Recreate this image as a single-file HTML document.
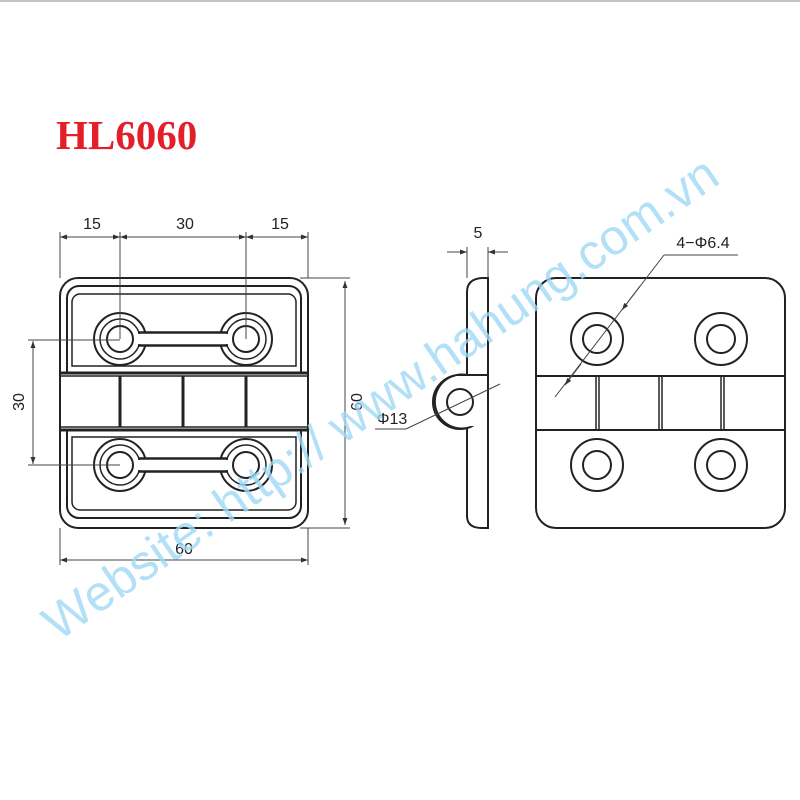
<!DOCTYPE html>
<html><head><meta charset="utf-8"><style>
html,body{margin:0;padding:0;background:#fff}
svg{display:block}
</style></head><body>
<svg width="800" height="800" viewBox="0 0 800 800" xmlns="http://www.w3.org/2000/svg">
<defs>
<marker id="a" viewBox="0 0 10 10" refX="10" refY="5" markerWidth="11" markerHeight="7" orient="auto-start-reverse" markerUnits="userSpaceOnUse"><path d="M0,1.5 L10,5 L0,8.5 z" fill="#333"/></marker>
</defs>
<line x1="0" y1="1" x2="800" y2="1" stroke="#888" stroke-width="1"/>
<text x="56" y="149" font-family="Liberation Serif" font-weight="bold" font-size="41" fill="#e3202a">HL6060</text>

<g fill="none" stroke="#222" stroke-width="2">
<rect x="60" y="278" width="248" height="250" rx="18"/>
<path d="M67,373 V298 a12,12 0 0 1 12,-12 H289 a12,12 0 0 1 12,12 V373"/>
<path d="M72,366 V302 a8,8 0 0 1 8,-8 H288 a8,8 0 0 1 8,8 V366 Z" stroke-width="1.5"/>
<path d="M67,430 V506 a12,12 0 0 0 12,12 H289 a12,12 0 0 0 12,-12 V430"/>
<path d="M72,437 V502 a8,8 0 0 0 8,8 H288 a8,8 0 0 0 8,-8 V437 Z" stroke-width="1.5"/>
<line x1="60" y1="373" x2="308" y2="373" stroke-width="3"/>
<line x1="60" y1="430" x2="308" y2="430" stroke-width="3"/>
<rect x="60" y="376" width="248" height="51" stroke-width="1.5"/>
<line x1="120" y1="376" x2="120" y2="427" stroke-width="3"/>
<line x1="183" y1="376" x2="183" y2="427" stroke-width="3"/>
<line x1="246" y1="376" x2="246" y2="427" stroke-width="3"/>
<g fill="#fff">
<circle cx="120" cy="339" r="26"/><circle cx="246" cy="339" r="26"/>
<circle cx="120" cy="465" r="26"/><circle cx="246" cy="465" r="26"/>
</g>
<rect x="132" y="332" width="102" height="14" fill="#fff" stroke-width="1.5"/>
<rect x="132" y="458" width="102" height="14" fill="#fff" stroke-width="1.5"/>
<g fill="#fff">
<circle cx="120" cy="339" r="20" stroke-width="1.5"/><circle cx="246" cy="339" r="20" stroke-width="1.5"/>
<circle cx="120" cy="465" r="20" stroke-width="1.5"/><circle cx="246" cy="465" r="20" stroke-width="1.5"/>
</g>
<rect x="136" y="334" width="94" height="10" fill="#fff" stroke="none"/>
<rect x="136" y="460" width="94" height="10" fill="#fff" stroke="none"/>
<line x1="138" y1="333" x2="228" y2="333" stroke-width="1.5"/><line x1="138" y1="345" x2="228" y2="345" stroke-width="1.5"/>
<line x1="138" y1="459" x2="228" y2="459" stroke-width="1.5"/><line x1="138" y1="471" x2="228" y2="471" stroke-width="1.5"/>
<circle cx="120" cy="339" r="13" fill="#fff"/><circle cx="246" cy="339" r="13" fill="#fff"/>
<circle cx="120" cy="465" r="13" fill="#fff"/><circle cx="246" cy="465" r="13" fill="#fff"/>
</g>
<g stroke="#444" stroke-width="1" fill="none">
<line x1="60" y1="232" x2="60" y2="278"/><line x1="308" y1="232" x2="308" y2="278"/>
<line x1="120" y1="232" x2="120" y2="339"/><line x1="246" y1="232" x2="246" y2="339"/>
<line x1="60" y1="237" x2="120" y2="237" marker-start="url(#a)" marker-end="url(#a)"/>
<line x1="120" y1="237" x2="246" y2="237" marker-start="url(#a)" marker-end="url(#a)"/>
<line x1="246" y1="237" x2="308" y2="237" marker-start="url(#a)" marker-end="url(#a)"/>
<line x1="300" y1="278" x2="350" y2="278"/><line x1="300" y1="528" x2="350" y2="528"/>
<line x1="345" y1="281" x2="345" y2="525" marker-start="url(#a)" marker-end="url(#a)"/>
<line x1="28" y1="340" x2="120" y2="340"/><line x1="28" y1="465" x2="120" y2="465"/>
<line x1="33" y1="341" x2="33" y2="464" marker-start="url(#a)" marker-end="url(#a)"/>
<line x1="60" y1="528" x2="60" y2="565"/><line x1="308" y1="528" x2="308" y2="565"/>
<line x1="60" y1="560" x2="308" y2="560" marker-start="url(#a)" marker-end="url(#a)"/>
</g>
<g font-family="Liberation Sans" font-size="16" fill="#222" text-anchor="middle">
<text x="92" y="229">15</text><text x="185" y="229">30</text><text x="280" y="229">15</text>
<text x="184" y="554">60</text>
<text transform="translate(24,402) rotate(-90)">30</text>
<text transform="translate(362,402) rotate(-90)">60</text>
<text x="478" y="238">5</text>
<text x="392" y="424">Φ13</text>
<text x="703" y="248">4−Φ6.4</text>
</g>

<g fill="none" stroke="#222" stroke-width="2">
<path d="M467,376 V292 Q467,279 482,278 H488 V376"/>
<path d="M467,426 V516 Q467,528 482,528 H488 V426"/>
<circle cx="460" cy="402" r="27" fill="#fff"/>
<rect x="455" y="376" width="32" height="50" fill="#fff" stroke="none"/>
<path d="M467,375 H488 V428"/>
<path d="M467,375 A27,27 0 1 0 467,428 V432"/>
<circle cx="460" cy="402" r="13"/>
</g>
<g stroke="#444" stroke-width="1" fill="none">
<line x1="467" y1="247" x2="467" y2="278"/><line x1="488" y1="247" x2="488" y2="278"/>
<line x1="447" y1="252" x2="467" y2="252" marker-end="url(#a)"/>
<line x1="508" y1="252" x2="488" y2="252" marker-end="url(#a)"/>
<line x1="375" y1="429" x2="406" y2="429"/>
<line x1="406" y1="429" x2="500" y2="384"/>
</g>

<g fill="none" stroke="#222" stroke-width="2">
<rect x="536" y="278" width="249" height="250" rx="20"/>
<line x1="536" y1="376" x2="785" y2="376"/><line x1="536" y1="430" x2="785" y2="430"/>
<line x1="596" y1="376" x2="596" y2="430" stroke-width="1.5"/><line x1="599" y1="376" x2="599" y2="430" stroke-width="1.5"/>
<line x1="659" y1="376" x2="659" y2="430" stroke-width="1.5"/><line x1="662" y1="376" x2="662" y2="430" stroke-width="1.5"/>
<line x1="721" y1="376" x2="721" y2="430" stroke-width="1.5"/><line x1="724" y1="376" x2="724" y2="430" stroke-width="1.5"/>
<circle cx="597" cy="339" r="26"/><circle cx="597" cy="339" r="14"/>
<circle cx="721" cy="339" r="26"/><circle cx="721" cy="339" r="14"/>
<circle cx="597" cy="465" r="26"/><circle cx="597" cy="465" r="14"/>
<circle cx="721" cy="465" r="26"/><circle cx="721" cy="465" r="14"/>
</g>
<g stroke="#444" stroke-width="1" fill="none">
<line x1="555" y1="397" x2="664" y2="255"/>
<line x1="664" y1="255" x2="738" y2="255"/>
<line x1="640" y1="286" x2="622" y2="310" marker-end="url(#a)"/>
<line x1="565" y1="385" x2="581" y2="364" marker-start="url(#a)"/>
</g>

<text transform="translate(58,642) rotate(-34.7)" font-family="Liberation Sans" font-size="50" fill="#9fd8f5" fill-opacity="0.8">Website: http:// www.hahung.com.vn</text>
</svg>
</body></html>
